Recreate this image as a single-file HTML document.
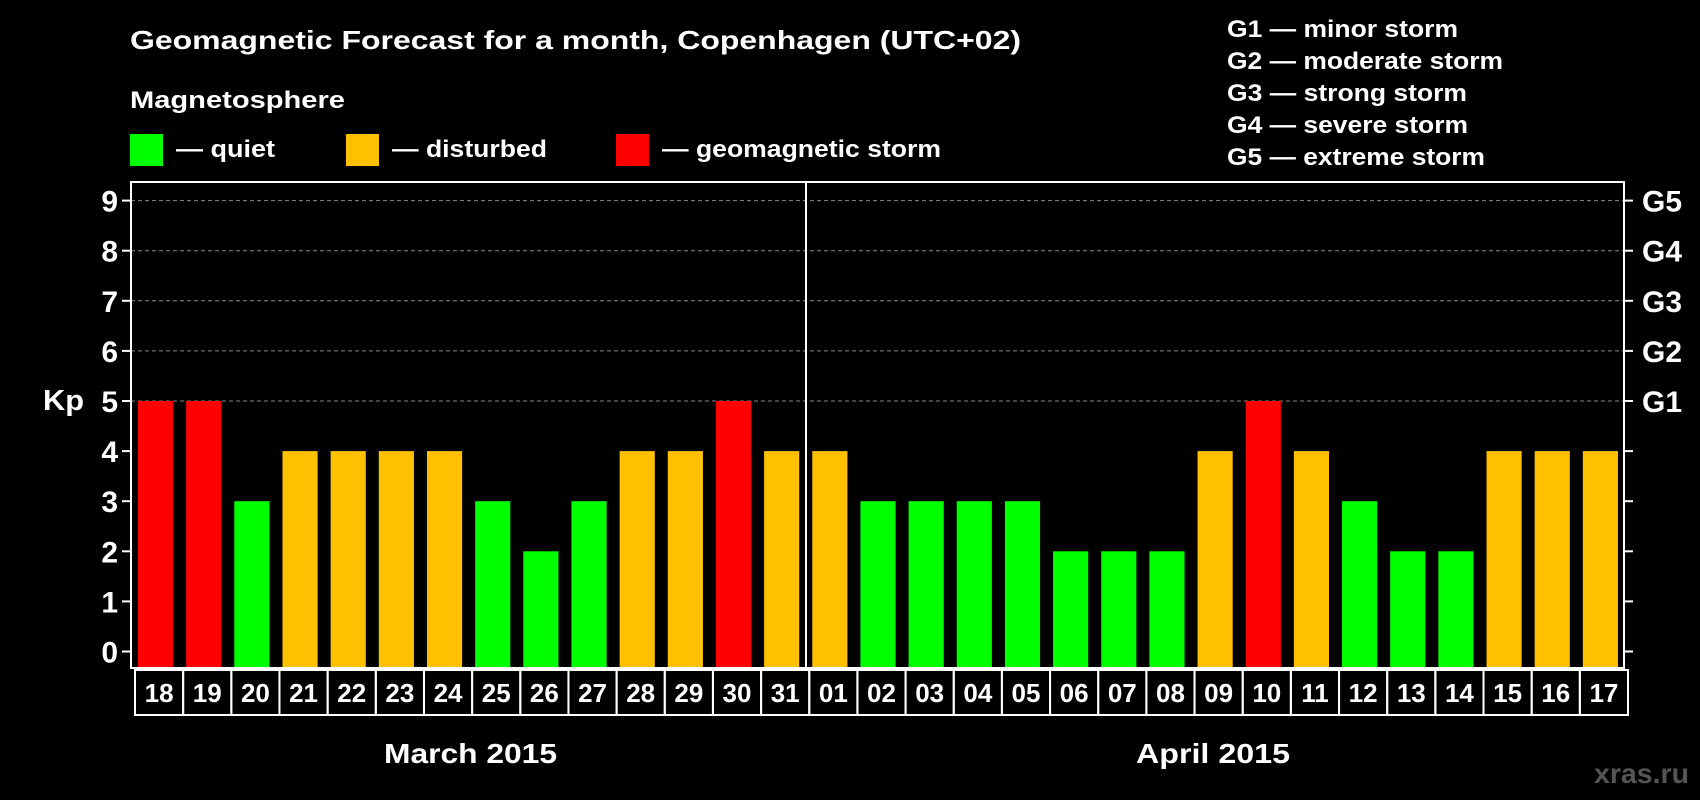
<!DOCTYPE html>
<html><head><meta charset="utf-8">
<style>
html,body{margin:0;padding:0;background:#000;}
svg{display:block;font-family:"Liberation Sans",Arial,sans-serif;font-weight:bold;}
</style></head>
<body>
<svg id="chart" width="1700" height="800" viewBox="0 0 1700 800">
<rect x="0" y="0" width="1700" height="800" fill="#000"/>
<text x="130" y="49" fill="#fff" font-size="26" textLength="891" lengthAdjust="spacingAndGlyphs">Geomagnetic Forecast for a month, Copenhagen (UTC+02)</text>
<text x="130" y="108" fill="#fff" font-size="24" textLength="215" lengthAdjust="spacingAndGlyphs">Magnetosphere</text>
<rect x="130" y="134" width="33" height="32" fill="#00ff00"/>
<text x="176" y="157" fill="#fff" font-size="24" textLength="99" lengthAdjust="spacingAndGlyphs">— quiet</text>
<rect x="346" y="134" width="33" height="32" fill="#ffc000"/>
<text x="392" y="157" fill="#fff" font-size="24" textLength="155" lengthAdjust="spacingAndGlyphs">— disturbed</text>
<rect x="616" y="134" width="33" height="32" fill="#ff0000"/>
<text x="662" y="157" fill="#fff" font-size="24" textLength="279" lengthAdjust="spacingAndGlyphs">— geomagnetic storm</text>
<g fill="#fff" font-size="24">
<text x="1227" y="37" textLength="231" lengthAdjust="spacingAndGlyphs">G1 — minor storm</text>
<text x="1227" y="69" textLength="276" lengthAdjust="spacingAndGlyphs">G2 — moderate storm</text>
<text x="1227" y="101" textLength="240" lengthAdjust="spacingAndGlyphs">G3 — strong storm</text>
<text x="1227" y="133" textLength="241" lengthAdjust="spacingAndGlyphs">G4 — severe storm</text>
<text x="1227" y="165" textLength="258" lengthAdjust="spacingAndGlyphs">G5 — extreme storm</text>
</g>
<text x="43" y="410" fill="#fff" font-size="29" textLength="41" lengthAdjust="spacingAndGlyphs">Kp</text>
<g id="grid"></g>
<g id="bars"></g>
<g id="xlabels"></g>
<rect x="131" y="182" width="1493" height="486" fill="none" stroke="#fff" stroke-width="2"/>
<line x1="806" y1="182" x2="806" y2="668" stroke="#fff" stroke-width="2"/>
<text x="384" y="763" fill="#fff" font-size="28" textLength="173" lengthAdjust="spacingAndGlyphs">March 2015</text>
<text x="1136" y="763" fill="#fff" font-size="28" textLength="154" lengthAdjust="spacingAndGlyphs">April 2015</text>
<text x="1594" y="783" fill="#555" font-size="28" textLength="95" lengthAdjust="spacingAndGlyphs">xras.ru</text>
</svg>
<script>
const days = ["18","19","20","21","22","23","24","25","26","27","28","29","30","31","01","02","03","04","05","06","07","08","09","10","11","12","13","14","15","16","17"];
const kpValues = [5,5,3,4,4,4,4,3,2,3,4,4,5,4,4,3,3,3,3,2,2,2,4,5,4,3,2,2,4,4,4];
const yTicks = [0,1,2,3,4,5,6,7,8,9];
const gLabels = ["","","","","","G1","G2","G3","G4","G5"];

const NS = "http://www.w3.org/2000/svg";
const plotL = 131, plotR = 1624, plotB = 668, y0 = 651.5, unit = 50.1;
const step = (plotR - plotL) / days.length;
function yScale(v){ return y0 - v * unit; }
function xScale(i){ return plotL + i * step; }
function color(v){ return v >= 5 ? "#ff0000" : (v >= 4 ? "#ffc000" : "#00ff00"); }
function mk(tag, attrs, parent){ const e = document.createElementNS(NS, tag); for (const k in attrs) e.setAttribute(k, attrs[k]); parent.appendChild(e); return e; }

const grid = document.getElementById("grid");
yTicks.forEach((t, i) => {
  const y = yScale(t);
  if (t >= 5) {
    const g = mk("line", {x1: plotL, x2: plotR, y1: y, y2: y, stroke: "#888", "stroke-width": 1, "stroke-dasharray": "4,3"}, grid);
    
    
  }
  const tl = mk("line", {x1: plotL - 9, x2: plotL, y1: y, y2: y, stroke: "#fff", "stroke-width": 2}, grid);
  
  
  const tr = mk("line", {x1: plotR, x2: plotR + 9, y1: y, y2: y, stroke: "#fff", "stroke-width": 2}, grid);
  
  
  const lab = mk("text", {x: plotL - 13, y: y + 11, fill: "#fff", "font-size": 30, "text-anchor": "end"}, grid);
  lab.textContent = t;
  
  
  if (gLabels[i]) {
    const gl = mk("text", {x: plotR + 18, y: y + 11, fill: "#fff", "font-size": 30, textLength: 40, lengthAdjust: "spacingAndGlyphs"}, grid);
    gl.textContent = gLabels[i];
    
    
  }
});

const bars = document.getElementById("bars");
const xl = document.getElementById("xlabels");
kpValues.forEach((v, i) => {
  const x = xScale(i);
  const b = mk("rect", {x: x + 7, y: yScale(v), width: step - 13, height: plotB - yScale(v), fill: color(v)}, bars);
  
  
  const bx = mk("rect", {x: x + 4, y: 670, width: step, height: 45, fill: "none", stroke: "#fff", "stroke-width": 2}, xl);
  
  
  const t = mk("text", {x: x + 4 + step / 2, y: 702, fill: "#fff", "font-size": 26, "text-anchor": "middle"}, xl);
  t.textContent = days[i];
  
  
});
</script>
</body></html>
